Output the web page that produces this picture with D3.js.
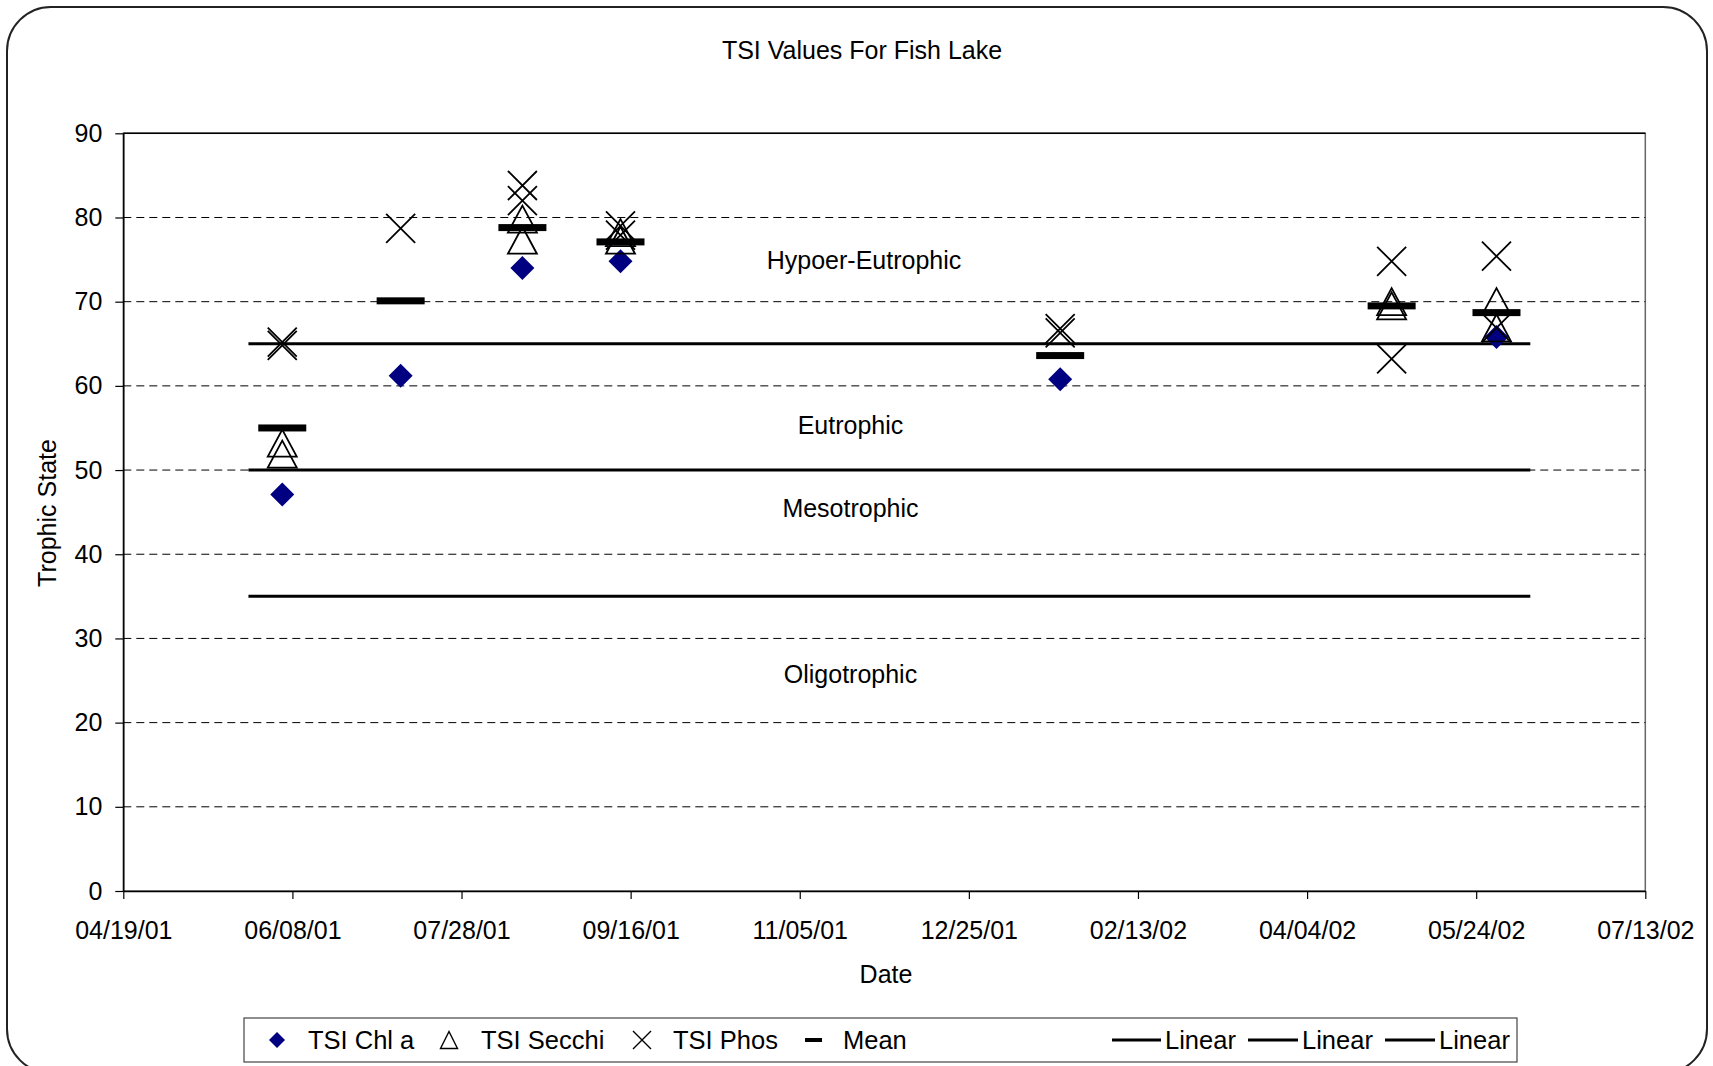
<!DOCTYPE html>
<html>
<head>
<meta charset="utf-8">
<script src="https://cdn.jsdelivr.net/npm/d3@7"></script>
<style>
  html, body { margin: 0; padding: 0; background: #fff; }
  svg { display: block; font-family: "Liberation Sans", Arial, sans-serif; }
</style>
</head>
<body>
<svg id="chart" width="1713" height="1066"></svg>
<script>
// Sampling dates and TSI values (several readings per date where sampled)
const sampleDates = ["2001-06-05", "2001-07-10", "2001-08-15", "2001-09-13", "2002-01-21", "2002-04-29", "2002-05-30"];
const tsiChlA   = [[47.1], [61.2], [74.0], [74.8], [60.8], [], [65.8]];
const tsiSecchi = [[53.2, 51.9], [], [79.8, 77.3], [78.2, 77.3], [], [70.0, 69.5], [70.0, 66.9]];
const tsiPhos   = [[65.2, 64.8], [78.7], [83.8, 82.0], [79.0, 77.9], [66.8, 66.3], [74.8, 63.2], [75.4, 66.9]];
const tsiMean   = [55.0, 70.1, 78.8, 77.1, 63.6, 69.5, 68.7];

// Trophic state boundaries (drawn as linear trend lines) and their extent
const boundaryValues = [65, 50, 35];
const boundaryExtent = ["2001-05-26", "2002-06-09"];

// Zone labels: [text, date, value]
const zoneNames  = ["Hypoer-Eutrophic", "Eutrophic", "Mesotrophic", "Oligotrophic"];
const zoneDates  = ["2001-11-24", "2001-11-20", "2001-11-20", "2001-11-20"];
const zoneValues = [74.9, 55.3, 45.5, 25.8];

// Axis settings
const xStart = "2001-04-19", xEnd = "2002-07-13", xStepDays = 50;
const yTicks = [0, 10, 20, 30, 40, 50, 60, 70, 80, 90];
const legendLabels = ["TSI Chl a", "TSI Secchi", "TSI Phos", "Mean", "Linear", "Linear", "Linear"];

const parse = d3.utcParse("%Y-%m-%d");
const fmt = d3.utcFormat("%m/%d/%y");

const svg = d3.select("#chart");
const FS = 25;
const plot = { left: 123.3, right: 1645.3, top: 133.3, bottom: 891 };

const x = d3.scaleUtc().domain([parse(xStart), parse(xEnd)]).range([plot.left, plot.right]);
const y = d3.scaleLinear().domain([0, 90]).range([plot.bottom, plot.top]);

const xTickDates = d3.utcDay.range(parse(xStart), d3.utcDay.offset(parse(xEnd), 1), 1)
  .filter((d, i) => i % xStepDays === 0);

// Chart frame
svg.append("rect")
  .attr("x", 7).attr("y", 7).attr("width", 1700).attr("height", 1066)
  .attr("rx", 44).attr("ry", 44)
  .attr("fill", "#fff").attr("stroke", "#222").attr("stroke-width", 2);

// Title
svg.append("text").attr("x", 862).attr("y", 59).attr("text-anchor", "middle")
  .attr("font-size", FS).text("TSI Values For Fish Lake");

// Plot area border
svg.append("rect")
  .attr("x", plot.left).attr("y", plot.top)
  .attr("width", plot.right - plot.left).attr("height", plot.bottom - plot.top)
  .attr("fill", "none").attr("stroke", "#666").attr("stroke-width", 1.5);

// Dashed gridlines
svg.append("g").selectAll("line")
  .data(yTicks.filter(v => v > 0 && v < 90))
  .join("line")
  .attr("x1", plot.left).attr("x2", plot.right)
  .attr("y1", d => y(d)).attr("y2", d => y(d))
  .attr("stroke", "#000").attr("stroke-width", 1).attr("stroke-dasharray", "8,5");

svg.append("line").attr("x1", plot.left).attr("x2", plot.right)
  .attr("y1", y(90)).attr("y2", y(90)).attr("stroke", "#000").attr("stroke-width", 1.5);

// Axes
const yAxis = svg.append("g").attr("transform", `translate(${plot.left},0)`)
  .call(d3.axisLeft(y).tickValues(yTicks).tickSize(8).tickPadding(13).tickSizeOuter(0));
const xAxis = svg.append("g").attr("transform", `translate(0,${plot.bottom})`)
  .call(d3.axisBottom(x).tickValues(xTickDates).tickFormat(fmt).tickSize(8).tickPadding(22).tickSizeOuter(0));
[yAxis, xAxis].forEach(g => {
  g.selectAll("text").attr("font-size", FS).attr("fill", "#000")
    .attr("font-family", "'Liberation Sans', Arial, sans-serif");
  g.selectAll("line").attr("stroke", "#000").attr("stroke-width", 1.2);
  g.select(".domain").attr("stroke", "#000").attr("stroke-width", 1.5);
});

// Axis titles
svg.append("text").attr("x", 886).attr("y", 983).attr("text-anchor", "middle")
  .attr("font-size", FS).text("Date");
svg.append("text").attr("transform", "translate(56,513) rotate(-90)")
  .attr("text-anchor", "middle").attr("font-size", FS).text("Trophic State");

// Zone labels
svg.append("g").selectAll("text")
  .data(zoneNames)
  .join("text")
  .attr("x", (d, i) => x(parse(zoneDates[i])))
  .attr("y", (d, i) => y(zoneValues[i]))
  .attr("dy", "0.35em").attr("text-anchor", "middle").attr("font-size", FS)
  .text(d => d);

// Boundary lines
svg.append("g").selectAll("line")
  .data(boundaryValues)
  .join("line")
  .attr("x1", x(parse(boundaryExtent[0]))).attr("x2", x(parse(boundaryExtent[1])))
  .attr("y1", d => y(d)).attr("y2", d => y(d))
  .attr("stroke", "#000").attr("stroke-width", 3);

// Marker shapes
const diamondPath = s => `M0,${-s}L${s},0L0,${s}L${-s},0Z`;
const trianglePath = (w, h) => `M0,${-h / 2}L${w / 2},${h / 2}L${-w / 2},${h / 2}Z`;
const crossPath = s => `M${-s},${-s}L${s},${s}M${s},${-s}L${-s},${s}`;
const flatten = arr => arr.flatMap((vals, i) => vals.map(v => ({ date: parse(sampleDates[i]), v })));

// TSI Chl a
svg.append("g").selectAll("path")
  .data(flatten(tsiChlA))
  .join("path")
  .attr("transform", d => `translate(${x(d.date)},${y(d.v)})`)
  .attr("d", diamondPath(12)).attr("fill", "#000080");

// TSI Secchi
svg.append("g").selectAll("path")
  .data(flatten(tsiSecchi))
  .join("path")
  .attr("transform", d => `translate(${x(d.date)},${y(d.v)})`)
  .attr("d", trianglePath(29, 27)).attr("fill", "none")
  .attr("stroke", "#000").attr("stroke-width", 1.8);

// TSI Phos
svg.append("g").selectAll("path")
  .data(flatten(tsiPhos))
  .join("path")
  .attr("transform", d => `translate(${x(d.date)},${y(d.v)})`)
  .attr("d", crossPath(14.5)).attr("fill", "none")
  .attr("stroke", "#000").attr("stroke-width", 1.8);

// Mean
svg.append("g").selectAll("rect")
  .data(tsiMean)
  .join("rect")
  .attr("x", (d, i) => x(parse(sampleDates[i])) - 24)
  .attr("y", d => y(d) - 3.5)
  .attr("width", 48).attr("height", 7).attr("fill", "#000");

// Legend
const lg = svg.append("g");
lg.append("rect").attr("x", 244).attr("y", 1018).attr("width", 1273).attr("height", 44)
  .attr("fill", "#fff").attr("stroke", "#444").attr("stroke-width", 1.2);
const ly = 1040;
lg.append("path").attr("transform", `translate(277,${ly})`).attr("d", diamondPath(8)).attr("fill", "#000080");
lg.append("path").attr("transform", `translate(449,${ly})`).attr("d", trianglePath(17, 17))
  .attr("fill", "none").attr("stroke", "#000").attr("stroke-width", 1.4);
lg.append("path").attr("transform", `translate(642,${ly})`).attr("d", crossPath(9))
  .attr("fill", "none").attr("stroke", "#000").attr("stroke-width", 1.4);
lg.append("rect").attr("x", 805).attr("y", ly - 2).attr("width", 17).attr("height", 4).attr("fill", "#000");
[[1112, 1161], [1248, 1298], [1385, 1435]].forEach(([a, b]) => {
  lg.append("line").attr("x1", a).attr("x2", b).attr("y1", ly).attr("y2", ly)
    .attr("stroke", "#000").attr("stroke-width", 3);
});
const legendTextX = [308, 481, 673, 843, 1165, 1302, 1439];
lg.selectAll("text.lbl")
  .data(legendLabels)
  .join("text").attr("class", "lbl")
  .attr("x", (d, i) => legendTextX[i]).attr("y", ly).attr("dy", "0.35em")
  .attr("font-size", 25.5).text(d => d);
</script>
</body>
</html>
